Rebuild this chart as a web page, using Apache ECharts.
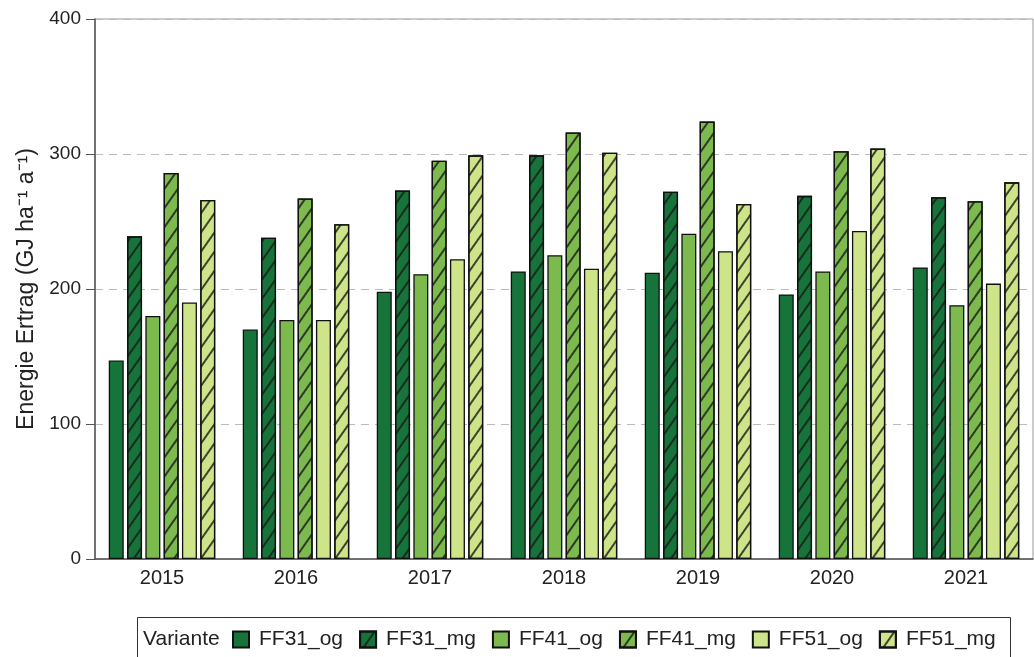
<!DOCTYPE html>
<html style="height: 100%">
<head>
    <meta charset="utf-8">
</head>
<body style="height: 100%; margin: 0; background: #fff">
<div id="container" style="width: 1034px; height: 657px"></div>
<script type="text/javascript" src="https://cdn.jsdelivr.net/npm/echarts@6/dist/echarts.min.js"></script>
<script type="text/javascript">
    var years = ['2015', '2016', '2017', '2018', '2019', '2020', '2021'];
    var yTicks = [0, 100, 200, 300, 400];

    var ff31_og = [147, 170, 198, 213, 212, 196, 216];
    var ff31_mg = [239, 238, 273, 299, 272, 269, 268];
    var ff41_og = [180, 177, 211, 225, 241, 213, 188];
    var ff41_mg = [286, 267, 295, 316, 324, 302, 265];
    var ff51_og = [190, 177, 222, 215, 228, 243, 204];
    var ff51_mg = [266, 248, 299, 301, 263, 304, 279];

    var names = ['FF31_og', 'FF31_mg', 'FF41_og', 'FF41_mg', 'FF51_og', 'FF51_mg'];
    var values = [ff31_og, ff31_mg, ff41_og, ff41_mg, ff51_og, ff51_mg];
    var colors = ['#16733a', '#16733a', '#7cba4e', '#7cba4e', '#cee489', '#cee489'];

    // diagonal hatching for the _mg variants
    var hatch = {
        symbol: 'rect',
        symbolSize: 1,
        dashArrayX: [1, 0],
        dashArrayY: [1.4, 8.6],
        rotation: -Math.PI * 55 / 180,
        color: 'rgba(25,25,25,0.8)'
    };

    var series = names.map(function (n, i) {
        var style = {color: colors[i], borderColor: '#111', borderWidth: 1.3};
        if (i % 2 === 1) {
            style.decal = hatch;
        }
        return {
            name: n,
            type: 'bar',
            data: values[i],
            barWidth: 15,
            barGap: '22%',
            itemStyle: style
        };
    });

    var myChart = echarts.init(document.getElementById('container'));
    var option = {
        animation: false,
        textStyle: {fontFamily: 'Liberation Sans, Arial, sans-serif'},
        grid: {left: 95, right: 1, top: 19, bottom: 98, show: true, borderColor: '#999', borderWidth: 1},
        legend: {
            left: 232,
            top: 629,
            padding: 0,
            icon: 'rect',
            itemWidth: 16,
            itemHeight: 16,
            itemGap: 16,
            textStyle: {fontSize: 21, color: '#222', padding: [0, 0, 0, 5]},
            data: names
        },
        graphic: [
            {
                type: 'rect',
                shape: {x: 137.5, y: 617.5, width: 873, height: 60},
                style: {fill: 'none', stroke: '#333', lineWidth: 1}
            },
            {
                type: 'text',
                left: 143,
                top: 629,
                style: {text: 'Variante', fontSize: 21, fill: '#222', fontFamily: 'Liberation Sans, Arial, sans-serif'}
            }
        ],
        xAxis: {
            type: 'category',
            data: years,
            axisLine: {lineStyle: {color: '#555', width: 1.5}},
            axisTick: {show: false},
            axisLabel: {fontSize: 20, color: '#222', margin: 9}
        },
        yAxis: {
            type: 'value',
            min: yTicks[0],
            max: yTicks[yTicks.length - 1],
            interval: 100,
            name: 'Energie Ertrag (GJ ha⁻¹ a⁻¹)',
            nameLocation: 'middle',
            nameGap: 52,
            nameTextStyle: {fontSize: 23, color: '#222'},
            axisLine: {show: true, lineStyle: {color: '#555', width: 1.5}},
            axisTick: {show: true, length: 9, lineStyle: {color: '#555'}},
            axisLabel: {fontSize: 19, color: '#222', margin: 14},
            splitLine: {show: true, lineStyle: {color: '#bbb', type: [8, 6]}}
        },
        series: series
    };
    myChart.setOption(option);
</script>
</body>
</html>
